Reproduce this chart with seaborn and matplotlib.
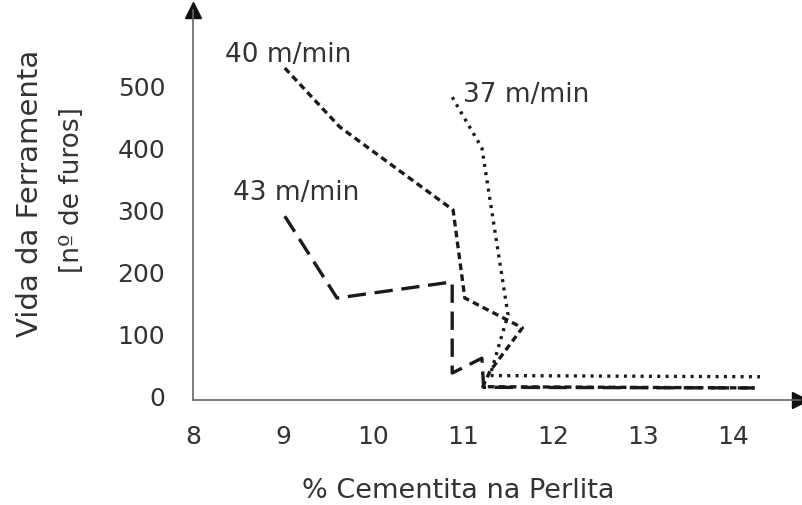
import numpy as np
import pandas as pd
import matplotlib
matplotlib.use("Agg")
import matplotlib.pyplot as plt
import seaborn as sns

sns.set_style("white")
plt.rcParams["font.family"] = ["DejaVu Sans"]

# Tool life vs. cementite content in pearlite, per cutting speed
x_40 = [9.02, 9.63, 10.89, 11.02, 11.66, 11.30, 11.22, 14.24]
y_40 = [529, 434, 300, 158, 110, 40, 15, 13]

x_43 = [9.02, 9.60, 10.88, 10.88, 11.21, 11.23, 14.24]
y_43 = [290, 158, 184, 37, 61, 14, 13]

x_37 = [10.88, 11.21, 11.50, 11.30, 14.30]
y_37 = [482, 400, 131, 33, 31]

x_ticks = [8, 9, 10, 11, 12, 13, 14]
y_ticks = [0, 100, 200, 300, 400, 500]

series = {
    "40 m/min": (x_40, y_40, (0, (2.0, 1.3))),
    "43 m/min": (x_43, y_43, (0, (5.5, 2.6))),
    "37 m/min": (x_37, y_37, (0, (0.9, 1.6))),
}

TEXT = "#333333"
W, H = 803, 505

fig = plt.figure(figsize=(W / 100, H / 100), dpi=100)
ax = fig.add_axes([193 / W, 105 / H, 607 / W, 390 / H])

for name, (xs, ys, ls) in series.items():
    df = pd.DataFrame({"x": xs, "y": ys})
    sns.lineplot(data=df, x="x", y="y", sort=False, estimator=None,
                 color="#1a1a1a", linewidth=2.4, linestyle=ls, ax=ax)

ax.set_xlim(8, 8 + (800 - 193) / 90)
ax.set_ylim((396 - 400) / 0.62, (396 - 10) / 0.62)

ax.set_xticks(x_ticks)
ax.set_xticklabels([str(v) for v in x_ticks])
ax.set_yticks(y_ticks)
ax.set_yticklabels([str(v) for v in y_ticks])
ax.tick_params(axis="both", length=0, labelsize=18, colors=TEXT)
ax.tick_params(axis="x", pad=18)
ax.tick_params(axis="y", pad=20)
ax.set_xlabel("")
ax.set_ylabel("")

for side in ("top", "right"):
    ax.spines[side].set_visible(False)
for side in ("left", "bottom"):
    ax.spines[side].set_color("#666666")
    ax.spines[side].set_linewidth(1.2)

# arrow heads at the ends of the axes
ax.plot([0], [1], marker="^", markersize=11, color="#111111",
        transform=ax.transAxes, clip_on=False)
ax.plot([1], [0], marker=">", markersize=11, color="#111111",
        transform=ax.transAxes, clip_on=False)

# axis titles
fig.text(458 / W, 1 - 491 / H, "% Cementita na Perlita", fontsize=19.5,
         color=TEXT, ha="center", va="center")
fig.text(30 / W, 1 - 193 / H, "Vida da Ferramenta", fontsize=21,
         color=TEXT, ha="center", va="center", rotation=90)
fig.text(72 / W, 1 - 190 / H, "[nº de furos]", fontsize=19,
         color=TEXT, ha="center", va="center", rotation=90)

# series labels
ax.text(8.36, 550, "40 m/min", fontsize=19, color=TEXT, va="center", ha="left")
ax.text(11.0, 485, "37 m/min", fontsize=19, color=TEXT, va="center", ha="left")
ax.text(8.44, 327, "43 m/min", fontsize=19, color=TEXT, va="center", ha="left")

fig.savefig("out.png", dpi=100)
